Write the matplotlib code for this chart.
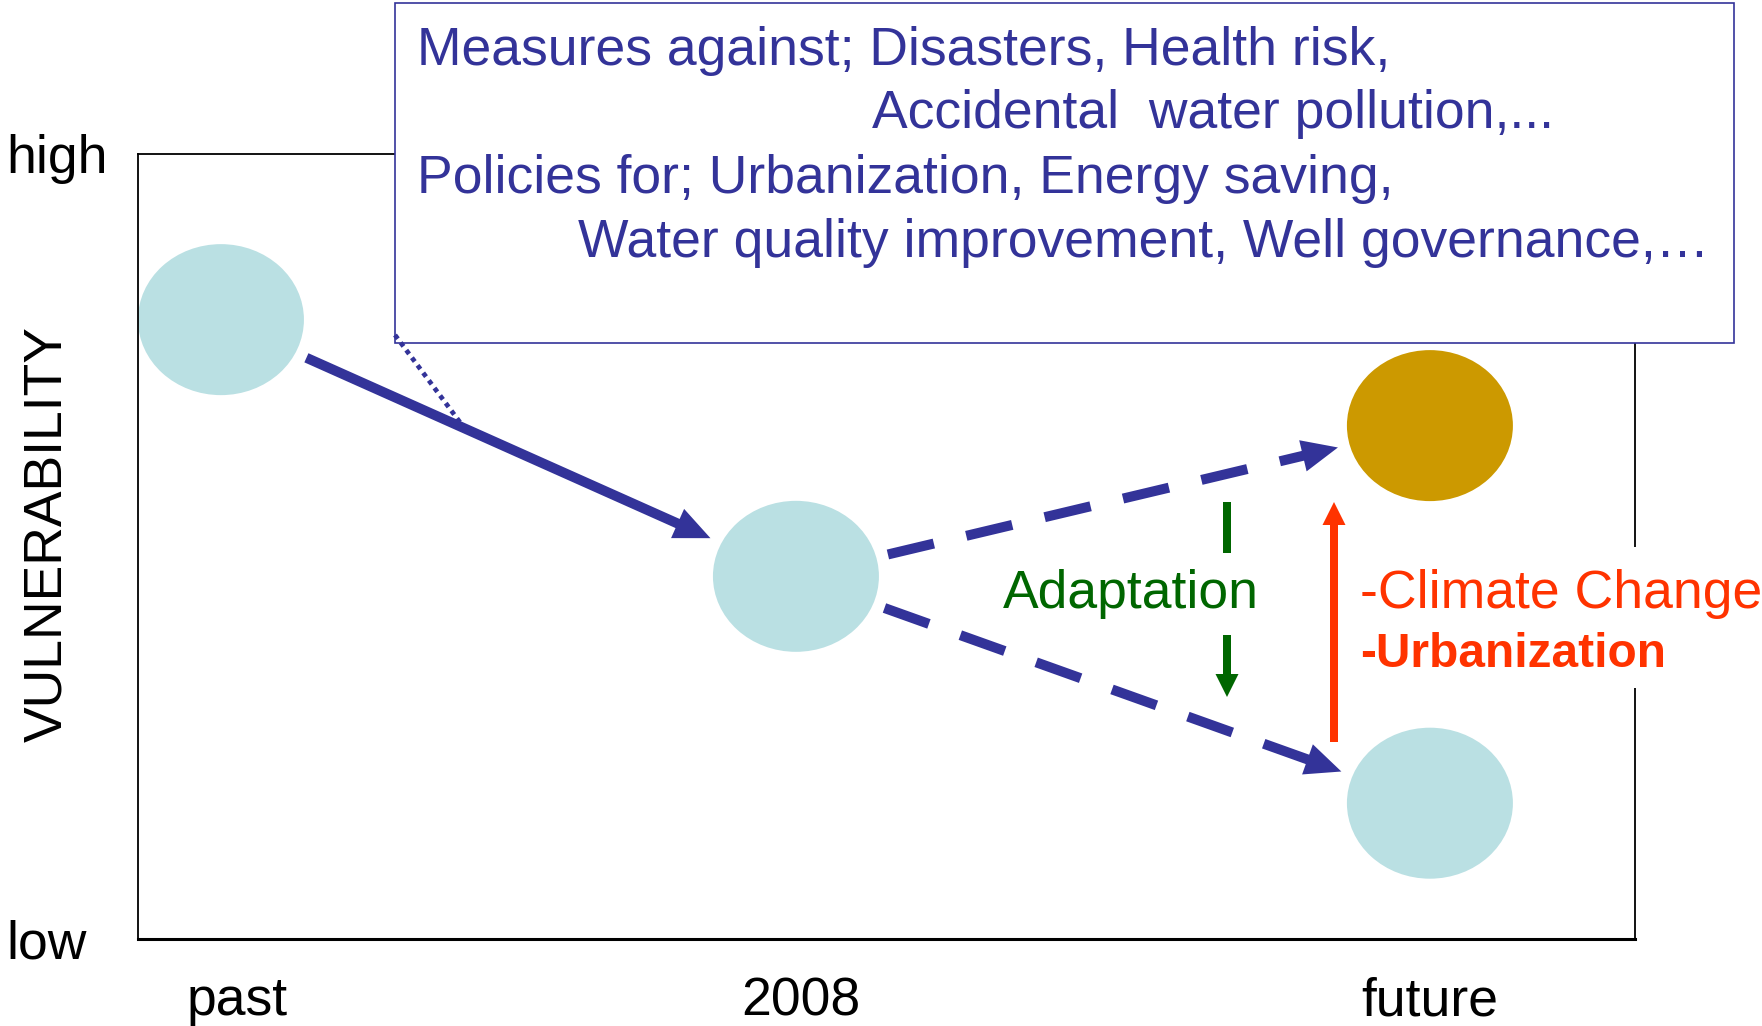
import numpy as np
import matplotlib
matplotlib.use('Agg')
import matplotlib.pyplot as plt
from matplotlib.patches import Ellipse, Polygon, Rectangle

plt.rcParams['font.family'] = ['Liberation Sans', 'DejaVu Sans']
plt.rcParams['lines.scale_dashes'] = False

# Stages on the time axis and vulnerability level (0 = low, 1 = high) of each node
stages = ['past', '2008', 'future']
stage_x = [0.0554, 0.4395, 0.863]
node_stage = [0, 1, 2, 2]
node_vuln = [0.789, 0.462, 0.654, 0.173]
node_colors = ['#BAE0E3', '#BAE0E3', '#CC9900', '#BAE0E3']
# transitions between nodes: (from, to, style)
links = [(0, 1, 'solid'), (1, 2, 'dashed'), (1, 3, 'dashed')]

box_lines = ['Measures against; Disasters, Health risk,',
             'Accidental  water pollution,...',
             'Policies for; Urbanization, Energy saving,',
             'Water quality improvement, Well governance,\u2026']
adapt_label = 'Adaptation'
driver_labels = ['-Climate Change', '-Urbanization']

NAVY = '#333399'
GREEN = '#006600'
RED = '#FF3300'
FS = 38.5

fig = plt.figure(figsize=(17.62, 10.26), dpi=100)
ax = fig.add_axes([138 / 1762, 87 / 1026, 1497 / 1762, 785 / 1026])
ax.set_xlim(0, 1)
ax.set_ylim(0, 1)
ax.set_autoscale_on(False)

# node size in pixels
NODE_W, NODE_H = 166, 151


def px(x, y):
    # layout position given in reference-image pixels -> data coords
    return ((x - 138) / 1497, (939 - y) / 785)


def to_disp(pts):
    return ax.transData.transform(pts)


def to_data(pts):
    return ax.transData.inverted().transform(pts)


def arrow(p0, p1, color, lw_px, head_len, head_w, dashes=None, zorder=2):
    # p0, p1 in display pixels
    p0, p1 = np.asarray(p0, float), np.asarray(p1, float)
    u = (p1 - p0) / np.linalg.norm(p1 - p0)
    n = np.array([-u[1], u[0]])
    base = p1 - u * head_len
    shaft = to_data([p0, base + u * 2])
    kw = {'dashes': dashes} if dashes else {}
    ax.plot(shaft[:, 0], shaft[:, 1], color=color, lw=lw_px * 0.72,
            solid_capstyle='butt', dash_capstyle='butt', zorder=zorder, **kw)
    head = to_data([p1, base + n * head_w / 2, base - n * head_w / 2])
    ax.add_patch(Polygon(head, closed=True, fc=color, ec='none', zorder=zorder))


def edge_dist(u):
    return 1 / np.sqrt((u[0] / (NODE_W / 2)) ** 2 + (u[1] / (NODE_H / 2)) ** 2)


# nodes
for s, v, c in zip(node_stage, node_vuln, node_colors):
    ax.add_patch(Ellipse((stage_x[s], v), NODE_W / 1497, NODE_H / 785,
                         fc=c, ec='none', zorder=1))

# transitions
for a, b, style in links:
    c0 = to_disp([(stage_x[node_stage[a]], node_vuln[a])])[0]
    c1 = to_disp([(stage_x[node_stage[b]], node_vuln[b])])[0]
    u = (c1 - c0) / np.linalg.norm(c1 - c0)
    r = edge_dist(u)
    start = c0 + u * (r + 12)
    end = c1 - u * (r + 12)
    dashes = (34, 24) if style == 'dashed' else None
    arrow(start, end, NAVY, 10, 36, 32, dashes=dashes)

# adaptation arrow (green) and climate/urbanization arrow (red)
g0, g1 = to_disp([px(1227, 502), px(1227, 697)])
arrow(g0, g1, GREEN, 8, 23, 23)
r0, r1 = to_disp([px(1334, 742), px(1334, 502)])
arrow(r0, r1, RED, 8, 23, 23, zorder=3.5)

# white patches where the labels break the lines
ax.text(*px(1131, 608), adapt_label, color=GREEN, fontsize=FS,
        ha='center', va='baseline', zorder=3, clip_on=False,
        bbox=dict(boxstyle='square,pad=0.3', fc='white', ec='none'))
wx0, wy0 = px(1345, 688)
wx1, wy1 = px(1762, 547)
ax.add_patch(Rectangle((wx0, wy0), wx1 - wx0, wy1 - wy0, fc='white', ec='none',
                       zorder=2.8, clip_on=False))
ax.text(*px(1360, 608), driver_labels[0], color=RED, fontsize=FS,
        ha='left', va='baseline', zorder=3, clip_on=False)
ax.text(*px(1360, 667), driver_labels[1], color=RED, fontsize=34.5, fontweight='bold',
        ha='left', va='baseline', zorder=3, clip_on=False)

# text box with measures / policies
bx0, by0 = px(395, 343)
bx1, by1 = px(1734, 3)
ax.add_patch(Rectangle((bx0, by0), bx1 - bx0, by1 - by0, fc='white', ec=NAVY,
                       lw=1.2, zorder=4, clip_on=False))
for (x, y), line in zip([(417, 65), (872, 128), (417, 193), (578, 257)], box_lines):
    ax.text(*px(x, y), line, color=NAVY, fontsize=FS, ha='left', va='baseline',
            zorder=5, clip_on=False)
d = np.array([px(395, 335), px(462, 425)])
ax.plot(d[:, 0], d[:, 1], color=NAVY, lw=3.4, dashes=(3.4, 3.4),
        dash_capstyle='butt', zorder=5)

# frame and axis labels
for side in ['left', 'top', 'right']:
    ax.spines[side].set_linewidth(1.3)
ax.spines['bottom'].set_linewidth(2.2)
ax.set_xticks([0.066, 0.443, 0.863], stages)
ax.set_yticks([0, 1], ['low', 'high'])
ax.tick_params(axis='x', length=0, pad=27, labelsize=FS)
ax.tick_params(axis='y', length=0, pad=95, labelsize=FS)
for lab in ax.get_yticklabels():
    lab.set_ha('left')
ax.set_ylabel('VULNERABILITY', fontsize=FS)
ax.yaxis.set_label_coords(-0.0608, 0.516)
ax.yaxis.label.set_va('center')

fig.savefig('out.png', dpi=100)
